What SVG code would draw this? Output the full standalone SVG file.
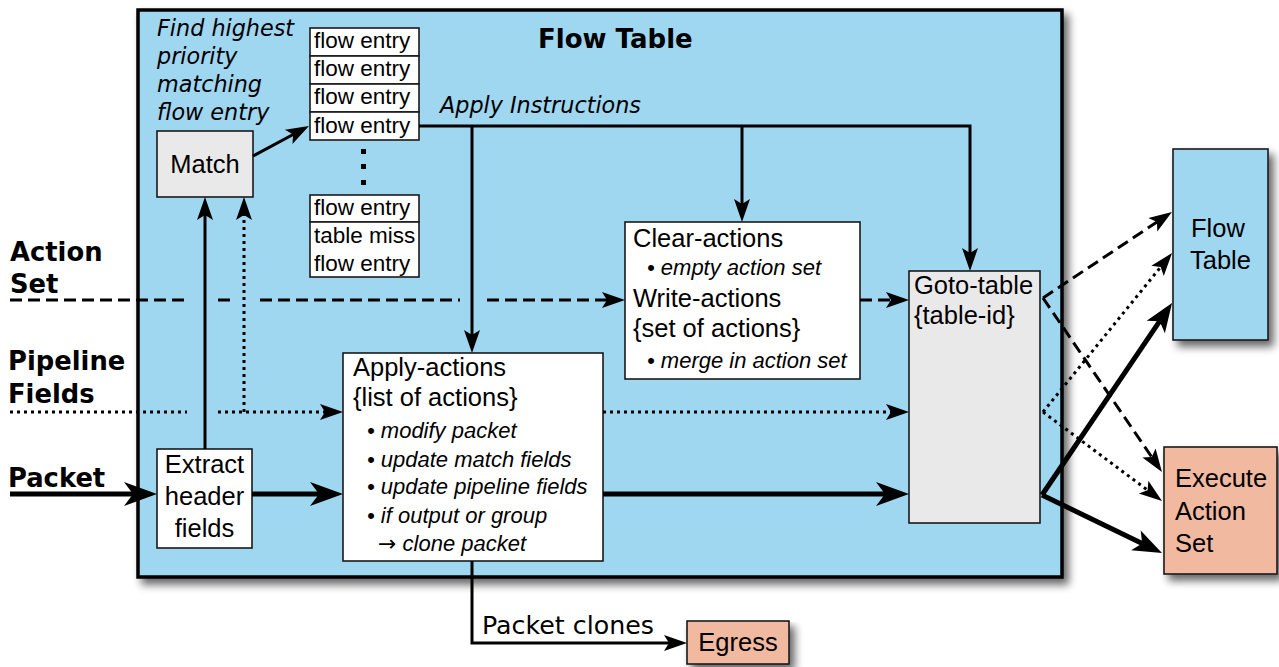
<svg xmlns="http://www.w3.org/2000/svg" width="1279" height="667" viewBox="0 0 1279 667">
<defs>
<style>
.box{stroke:#1a1a1a;stroke-width:1.6}
.blue{fill:#9fd6f0}
.gray{fill:#e9e9e9}
.white{fill:#ffffff}
.salmon{fill:#f0b9a0}
.t{font-family:"Liberation Sans",Arial,sans-serif;font-size:25.5px;fill:#000}
.ti{font-family:"Liberation Sans",Arial,sans-serif;font-size:22px;font-style:italic;fill:#000}
.fe{font-family:"Liberation Sans",Arial,sans-serif;font-size:22.5px;fill:#000}
.lbl{font-family:"DejaVu Sans",sans-serif;font-size:25.8px;font-weight:bold;fill:#000}
.ttl{font-family:"DejaVu Sans",sans-serif;font-size:26px;font-weight:bold;fill:#000}
.dji{font-family:"DejaVu Sans",sans-serif;font-size:22.3px;font-style:italic;fill:#000}
.dj{font-family:"DejaVu Sans",sans-serif;font-size:25.3px;fill:#000}
.c{fill:none;stroke:#000;stroke-width:3}
.thick{fill:none;stroke:#000;stroke-width:5}
.dash{fill:none;stroke:#000;stroke-width:3;stroke-dasharray:12 6}
.dot{fill:none;stroke:#000;stroke-width:3;stroke-dasharray:3 4}
</style>
<marker id="ah" markerUnits="userSpaceOnUse" orient="auto" refX="0" refY="0" overflow="visible" markerWidth="1" markerHeight="1">
<path d="M18,0 L-5,-8 L0,0 L-5,8 Z" fill="#000"/>
</marker>
<marker id="ahL" markerUnits="userSpaceOnUse" orient="auto" refX="0" refY="0" overflow="visible" markerWidth="1" markerHeight="1">
<path d="M24,0 L-9,-12 L0,0 L-9,12 Z" fill="#000"/>
</marker>
<marker id="ahR" markerUnits="userSpaceOnUse" orient="auto" refX="0" refY="0" overflow="visible" markerWidth="1" markerHeight="1">
<path d="M22,0 L-7,-11 L0,0 L-7,11 Z" fill="#000"/>
</marker>
<filter id="shadow" x="-10%" y="-10%" width="130%" height="130%">
<feGaussianBlur in="SourceAlpha" stdDeviation="4"/>
<feOffset dx="5" dy="6"/>
<feComponentTransfer><feFuncA type="linear" slope="0.6"/></feComponentTransfer>
<feMerge><feMergeNode/><feMergeNode in="SourceGraphic"/></feMerge>
</filter>
</defs>

<g id="flow-table-main">
<rect x="138" y="10" width="924" height="567" class="blue" stroke="#000" stroke-width="3.5" filter="url(#shadow)"/>
<text class="ttl" x="538" y="48">Flow Table</text>
<text class="dji" x="157" y="36">Find highest</text>
<text class="dji" x="157" y="64">priority</text>
<text class="dji" x="157" y="92">matching</text>
<text class="dji" x="157" y="120">flow entry</text>
<text class="dji" x="440" y="113">Apply Instructions</text>
</g>

<g id="labels">
<text class="lbl" x="10" y="261">Action</text>
<text class="lbl" x="10" y="293">Set</text>
<text class="lbl" x="8" y="370">Pipeline</text>
<text class="lbl" x="8" y="403">Fields</text>
<text class="lbl" x="8" y="487">Packet</text>
</g>

<g id="match">
<rect x="157" y="131" width="96" height="66" class="box gray"/>
<text class="t" x="205" y="173" text-anchor="middle">Match</text>
</g>

<g id="flow-entries">
<rect x="310" y="28" width="109" height="28" class="box white"/>
<rect x="310" y="56" width="109" height="28" class="box white"/>
<rect x="310" y="84" width="109" height="28" class="box white"/>
<rect x="310" y="112" width="109" height="28" class="box white"/>
<text class="fe" x="314" y="48">flow entry</text>
<text class="fe" x="314" y="76">flow entry</text>
<text class="fe" x="314" y="104">flow entry</text>
<text class="fe" x="314" y="133">flow entry</text>
<rect x="361" y="149" width="5" height="5" fill="#000"/>
<rect x="361" y="164" width="5" height="5" fill="#000"/>
<rect x="361" y="180" width="5" height="5" fill="#000"/>
<rect x="310" y="195" width="109" height="27" class="box white"/>
<rect x="310" y="222" width="109" height="55" class="box white"/>
<text class="fe" x="314" y="215">flow entry</text>
<text class="fe" x="314" y="243">table miss</text>
<text class="fe" x="314" y="271">flow entry</text>
</g>

<g id="extract">
<rect x="157" y="449" width="95" height="99" class="box white"/>
<text class="t" x="204.5" y="473" text-anchor="middle">Extract</text>
<text class="t" x="204.5" y="505" text-anchor="middle">header</text>
<text class="t" x="204.5" y="537" text-anchor="middle">fields</text>
</g>

<g id="clear-write">
<rect x="625" y="222" width="235" height="157" class="box white"/>
<text class="t" x="633" y="247">Clear-actions</text>
<text class="ti" x="647" y="275">• empty action set</text>
<text class="t" x="633" y="307">Write-actions</text>
<text class="t" x="633" y="337">{set of actions}</text>
<text class="ti" x="647" y="368">• merge in action set</text>
</g>

<g id="apply-actions">
<rect x="343" y="353" width="260" height="208" class="box white"/>
<text class="t" x="353" y="376">Apply-actions</text>
<text class="t" x="353" y="406">{list of actions}</text>
<text class="ti" x="367" y="438">• modify packet</text>
<text class="ti" x="367" y="467">• update match fields</text>
<text class="ti" x="367" y="494">• update pipeline fields</text>
<text class="ti" x="367" y="523">• if output or group</text>
<text class="ti" x="378" y="551"><tspan font-family="DejaVu Sans, sans-serif" font-style="normal">→</tspan> clone packet</text>
</g>

<g id="goto-table">
<rect x="909" y="271" width="131" height="252" class="box gray"/>
<text class="t" x="914" y="294">Goto-table</text>
<text class="t" x="914" y="324">{table-id}</text>
</g>

<g id="next-flow-table">
<rect x="1173" y="149" width="95" height="191" class="box blue" filter="url(#shadow)"/>
<text class="t" x="1191" y="237">Flow</text>
<text class="t" x="1190" y="269">Table</text>
</g>

<g id="execute-action-set">
<rect x="1164" y="447" width="113" height="127" class="box salmon" filter="url(#shadow)"/>
<text class="t" x="1175" y="487">Execute</text>
<text class="t" x="1175" y="520">Action</text>
<text class="t" x="1175" y="552">Set</text>
</g>

<g id="egress">
<rect x="687" y="621" width="102" height="43" class="box salmon" filter="url(#shadow)"/>
<text class="t" x="738" y="651" text-anchor="middle">Egress</text>
</g>

<g id="connectors">
<path class="thick" d="M10,494 H133" marker-end="url(#ahL)"/>
<path class="thick" d="M252,494 H319" marker-end="url(#ahL)"/>
<path class="thick" d="M603,494 H885" marker-end="url(#ahL)"/>
<path class="c" d="M205,449 V215" marker-end="url(#ah)"/>
<path class="c" d="M253,156 L293.1,134.5" marker-end="url(#ah)"/>
<path class="c" d="M419,126 H970 V253" marker-end="url(#ah)"/>
<path class="c" d="M742,126 V204" marker-end="url(#ah)"/>
<path class="c" d="M472,126 V335" marker-end="url(#ah)"/>
<path class="dash" d="M10,300 H187"/>
<path class="dash" d="M218,300 H230"/>
<path class="dash" d="M260,300 H460"/>
<path class="dash" d="M487,300 H607" marker-end="url(#ah)"/>
<path class="dash" d="M860,300 H891" marker-end="url(#ah)"/>
<path class="dot" d="M10,412 H187"/>
<path class="dot" d="M218,412 H325" marker-end="url(#ah)"/>
<path class="dot" d="M244,412 V215" marker-end="url(#ah)"/>
<path class="dot" d="M603,412 H891" marker-end="url(#ah)"/>
<path class="dash" d="M1043,298 L1157,222" marker-end="url(#ah)"/>
<path class="dash" d="M1043,298 L1151.8,457.1" marker-end="url(#ah)"/>
<path class="dot" d="M1043,412 L1160.7,267" marker-end="url(#ah)"/>
<path class="dot" d="M1043,412 L1147.6,490.2" marker-end="url(#ah)"/>
<path class="thick" d="M1042,495 L1159.7,321.2" marker-end="url(#ahR)"/>
<path class="thick" d="M1042,495 L1142.2,543.4" marker-end="url(#ahR)"/>
<path class="c" d="M472,561 V643 H669" marker-end="url(#ah)"/>
<text class="dj" x="482" y="634">Packet clones</text>
</g>
</svg>
